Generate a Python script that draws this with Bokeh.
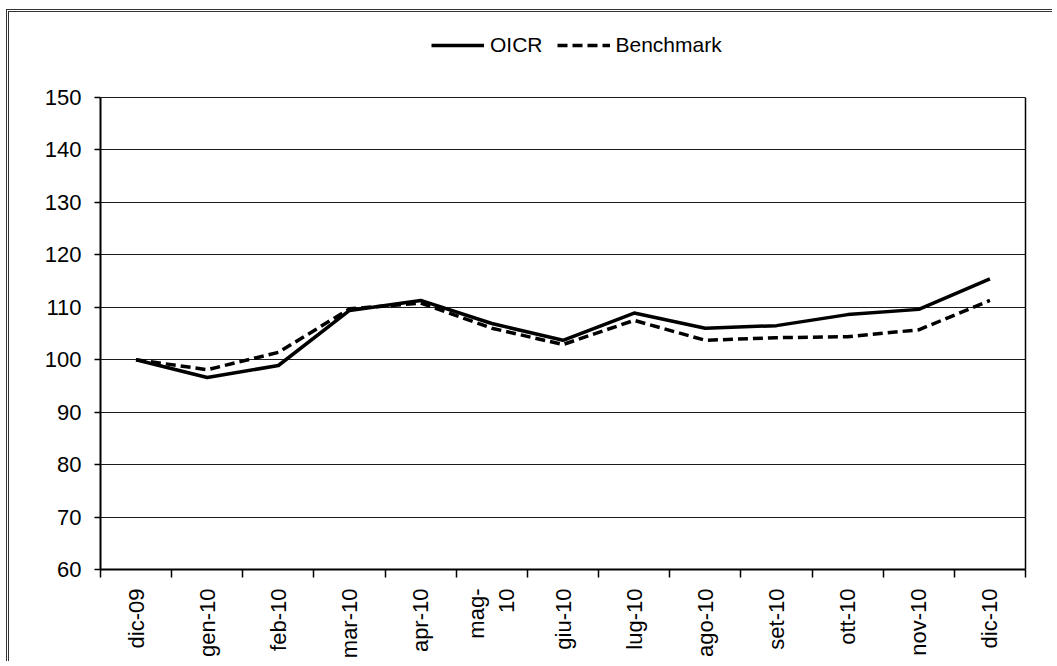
import math
from bokeh.plotting import figure
from bokeh.models import Range1d, FixedTicker, Legend, LegendItem, LinearAxis
from bokeh.embed import file_html
from bokeh.resources import INLINE

categories = ["dic-09", "gen-10", "feb-10", "mar-10", "apr-10", "mag-10", "giu-10",
              "lug-10", "ago-10", "set-10", "ott-10", "nov-10", "dic-10"]
tick_labels = ["dic-09", "gen-10", "feb-10", "mar-10", "apr-10", "mag-\n10", "giu-10",
               "lug-10", "ago-10", "set-10", "ott-10", "nov-10", "dic-10"]
oicr = [100, 96.6, 98.9, 109.4, 111.3, 106.9, 103.7, 108.9, 106.0, 106.5, 108.6, 109.6, 115.4]
benchmark = [100, 98.1, 101.4, 109.7, 110.8, 106.0, 102.9, 107.5, 103.7, 104.2, 104.4, 105.7, 111.3]
y_ticks = [60, 70, 80, 90, 100, 110, 120, 130, 140, 150]
Y_MIN, Y_MAX = 60, 150

FONT = "Liberation Sans"
xs = list(range(len(categories)))

# layout (pixels): the frame is extended upwards so the legend can sit above the 150 line
H, TOP, BOTTOM = 652, 15, 95
PLOT_PX = 472          # pixels between 60 and 150
EXTRA_PX = 70          # pixels above 150 reserved for the legend
y_end = Y_MAX + EXTRA_PX * (Y_MAX - Y_MIN) / PLOT_PX

p = figure(width=1046, height=H, output_backend="svg", toolbar_location=None,
           x_range=Range1d(-0.5, len(categories) - 0.5), y_range=Range1d(Y_MIN, y_end),
           min_border_left=91, min_border_right=30, min_border_top=TOP, min_border_bottom=BOTTOM)
p.margin = (9, 0, 0, 6)
p.styles = {"border-left": "3px double #333", "border-top": "3px double #333"}

p.background_fill_color = "white"
p.border_fill_color = "white"
p.outline_line_color = None

# y axis
p.yaxis.ticker = FixedTicker(ticks=y_ticks)
p.yaxis.bounds = (Y_MIN, Y_MAX)
p.yaxis.axis_line_width = 2
p.yaxis.axis_line_color = "black"
p.yaxis.major_tick_out = 6
p.yaxis.major_tick_in = 0
p.yaxis.minor_tick_out = 0
p.yaxis.minor_tick_in = 0
p.yaxis.major_tick_line_color = "black"
p.yaxis.major_tick_line_width = 1.5
p.yaxis.major_label_text_font = FONT
p.yaxis.major_label_text_font_size = "22px"
p.yaxis.major_label_text_color = "black"
p.yaxis.major_label_standoff = 13

# right edge of the plot box
right = LinearAxis(ticker=FixedTicker(ticks=[]), bounds=(Y_MIN, Y_MAX),
                   axis_line_color="black", axis_line_width=1.5,
                   major_tick_line_color=None, minor_tick_line_color=None,
                   major_label_text_color=None)
p.add_layout(right, "right")

# x axis
p.xaxis.ticker = FixedTicker(ticks=xs, minor_ticks=[i - 0.5 for i in range(len(categories) + 1)])
p.xaxis.major_label_overrides = {i: lab for i, lab in enumerate(tick_labels)}
p.xaxis.major_label_orientation = math.pi / 2
p.xaxis.major_tick_out = 0
p.xaxis.major_tick_in = 0
p.xaxis.minor_tick_out = 8
p.xaxis.minor_tick_in = 0
p.xaxis.minor_tick_line_color = "black"
p.xaxis.minor_tick_line_width = 1.5
p.xaxis.axis_line_width = 2
p.xaxis.axis_line_color = "black"
p.xaxis.major_label_text_font = FONT
p.xaxis.major_label_text_font_size = "22px"
p.xaxis.major_label_text_color = "black"
p.xaxis.major_label_standoff = 11

# grid
p.xgrid.grid_line_color = None
p.ygrid.ticker = FixedTicker(ticks=y_ticks)
p.ygrid.grid_line_color = "#1a1a1a"
p.ygrid.grid_line_width = 1

r1 = p.line(xs, oicr, line_color="black", line_width=3.5, line_join="round")
r2 = p.line(xs, benchmark, line_color="black", line_width=3.5, line_dash="10 5", line_join="round")

legend = Legend(items=[LegendItem(label="OICR", renderers=[r1]),
                       LegendItem(label="Benchmark", renderers=[r2])],
                orientation="horizontal", location=(331, 512),
                glyph_width=53, glyph_height=24, label_standoff=6, spacing=14,
                padding=0, margin=0, border_line_color=None, background_fill_alpha=0,
                label_text_font=FONT, label_text_font_size="21px", label_text_color="black")
p.add_layout(legend, "center")

open("out.html", "w").write(file_html(p, INLINE))
